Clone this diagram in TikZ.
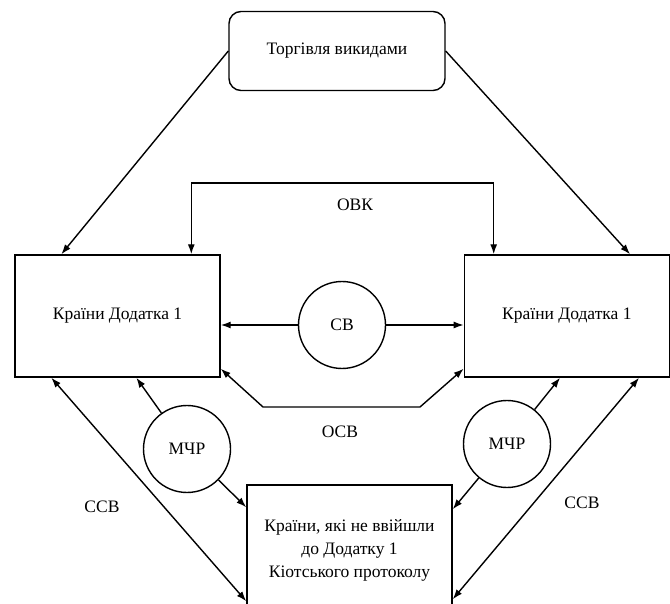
\documentclass[tikz,border=0pt]{standalone}
\usepackage{fontspec}
\setmainfont{Liberation Serif}
\usetikzlibrary{arrows.meta,positioning}

\begin{document}
\begin{tikzpicture}[x=1pt, y=-1pt, line width=1.4pt,
	font=\fontsize{17.5}{23}\selectfont,
	box/.style={draw, minimum width=205pt, minimum height=122pt},
	rbox/.style={draw, rounded corners=12pt, minimum width=216pt, minimum height=79pt},
	circ/.style={draw, circle, minimum size=87pt, inner sep=0pt},
	arr/.style={-{Latex[length=10pt,width=7pt]}},
	arrs/.style={{Latex[length=10pt,width=7pt]}-{Latex[length=10pt,width=7pt]}}]
	\clip (0,0) rectangle (670,604);
	
	\node[rbox] (trade) at (337,51) {Торгівля викидами};
	\node[box] (c1) at (117.5,316) {Країни Додатка 1};
	\node[box,right=243pt of c1] (c2) {Країни Додатка 1};
	\node[circ] (cb) at (342,325) {СВ};
	\node[circ] (m1) at (187,449) {МЧР};
	\node[circ] (m2) at (507,444) {МЧР};
	\node[box, minimum height=130pt, align=center] (c3) at (349.5,550)
		{Країни, які не ввійшли\\до Додатку 1\\Кіотського протоколу};
	
	\coordinate (ovk) at (342,183);
	\coordinate (ocbl) at (263,407);
	\coordinate (ocbr) at (420,407);
	
	% torhivlia
	\path[arr] (trade.west) edge ([xshift=47pt]c1.north west);
	\path[arr] (trade.east) edge ([xshift=-40pt]c2.north east);
	
	% OVK
	\draw[arrs] ([xshift=177pt]c1.north west) |- (ovk) -| ([xshift=30pt]c2.north west);
	\node[below=12pt of ovk, xshift=13pt] (ovkl) {ОВК};
	
	% SV
	\path[arr] (cb) edge (c1.east |- cb);
	\path[arr] (cb) edge (c2.west |- cb);
	
	% OSV
	\draw[arrs] ([yshift=9pt]c1.south east) -- (ocbl) -- (ocbr) -- ([yshift=9pt]c2.south west);
	\node (ocbt) at (340,432) {ОСВ};
	
	% MChR
	\path[arr] (m1) edge ([xshift=122pt]c1.south west);
	\path[arr] (m1) edge ([yshift=-23pt]c3.north west);
	\path[arr] (m2) edge ([xshift=-110pt]c2.south east);
	\path[arr] (m2) edge ([yshift=-25pt]c3.north east);
	
	% SSV
	\draw[arrs] ([xshift=37pt]c1.south west) -- ([yshift=-117pt]c3.north west);
	\draw[arrs] ([yshift=-115pt]c3.north east) -- ([xshift=-31pt]c2.south east);
	\node (ssvl) at (102,507) {ССВ};
	\node (ssvr) at (582,503) {ССВ};
\end{tikzpicture}
\end{document}
